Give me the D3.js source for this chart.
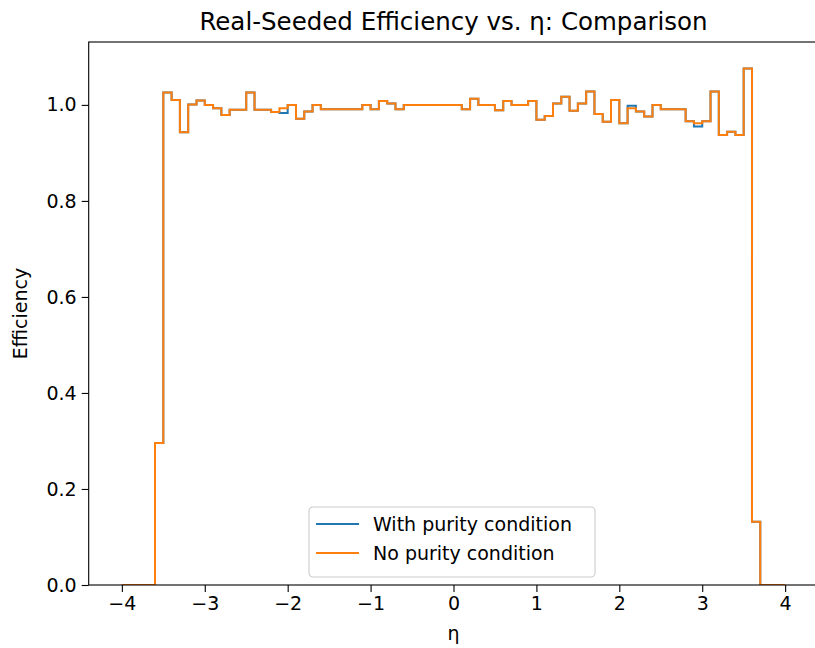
<!DOCTYPE html>
<html>
<head>
<meta charset="utf-8">
<script src="https://cdn.jsdelivr.net/npm/d3@7"></script>
<style>
  html, body { margin: 0; padding: 0; background: #fff; }
  svg { display: block; font-family: "DejaVu Sans", sans-serif; }
</style>
</head>
<body>
<svg id="chart" width="815" height="648"></svg>
<script>
// Bin edges in η (80 bins of width 0.1)
const binEdges = [
  -4.0, -3.9, -3.8, -3.7, -3.6, -3.5, -3.4, -3.3, -3.2, -3.1,
  -3.0, -2.9, -2.8, -2.7, -2.6, -2.5, -2.4, -2.3, -2.2, -2.1,
  -2.0, -1.9, -1.8, -1.7, -1.6, -1.5, -1.4, -1.3, -1.2, -1.1,
  -1.0, -0.9, -0.8, -0.7, -0.6, -0.5, -0.4, -0.3, -0.2, -0.1,
   0.0,  0.1,  0.2,  0.3,  0.4,  0.5,  0.6,  0.7,  0.8,  0.9,
   1.0,  1.1,  1.2,  1.3,  1.4,  1.5,  1.6,  1.7,  1.8,  1.9,
   2.0,  2.1,  2.2,  2.3,  2.4,  2.5,  2.6,  2.7,  2.8,  2.9,
   3.0,  3.1,  3.2,  3.3,  3.4,  3.5,  3.6,  3.7,  3.8,  3.9,
   4.0
];

// Efficiency per bin, no purity condition
const effNoPurity = [
  0, 0, 0, 0, 0.296, 1.026, 1.010, 0.943, 1.001, 1.009,
  1.000, 0.993, 0.979, 0.990, 0.990, 1.026, 0.990, 0.990, 0.985, 0.993,
  1.000, 0.971, 0.986, 1.000, 0.991, 0.991, 0.991, 0.991, 0.991, 1.000,
  0.991, 1.008, 1.003, 0.991, 1.000, 1.000, 1.000, 1.000, 1.000, 1.000,
  1.000, 0.991, 1.013, 1.000, 1.000, 0.989, 1.008, 1.000, 1.000, 1.008,
  0.969, 0.977, 1.003, 1.017, 0.988, 1.003, 1.028, 0.981, 0.965, 1.010,
  0.962, 0.993, 0.986, 0.976, 1.000, 0.991, 0.991, 0.991, 0.966, 0.962,
  0.966, 1.028, 0.9375, 0.944, 0.9375, 1.076, 0.132, 0, 0, 0
];

// Efficiency per bin, with purity condition
const effWithPurity = [
  0, 0, 0, 0, 0.296, 1.026, 1.010, 0.943, 1.001, 1.009,
  1.000, 0.993, 0.979, 0.990, 0.990, 1.026, 0.990, 0.990, 0.985, 0.983,
  1.000, 0.971, 0.986, 1.000, 0.991, 0.991, 0.991, 0.991, 0.991, 1.000,
  0.991, 1.008, 1.003, 0.991, 1.000, 1.000, 1.000, 1.000, 1.000, 1.000,
  1.000, 0.991, 1.013, 1.000, 1.000, 0.989, 1.008, 1.000, 1.000, 1.008,
  0.969, 0.977, 1.003, 1.017, 0.988, 1.003, 1.028, 0.981, 0.965, 1.010,
  0.962, 0.998, 0.986, 0.976, 1.000, 0.991, 0.991, 0.991, 0.966, 0.955,
  0.966, 1.028, 0.9375, 0.944, 0.9375, 1.076, 0.132, 0, 0, 0
];

const xTicks = [-4, -3, -2, -1, 0, 1, 2, 3, 4];
const yTicks = [0.0, 0.2, 0.4, 0.6, 0.8, 1.0];

const seriesNames = ["With purity condition", "No purity condition"];
const seriesColors = ["#1f77b4", "#ff7f0e"];

const svg = d3.select("#chart");
const plot = { left: 88.7, right: 818.3, top: 42, bottom: 585 };

const x = d3.scaleLinear().domain([-4.4, 4.4]).range([plot.left, plot.right]);
const y = d3.scaleLinear().domain([0, 1.131]).range([plot.bottom, plot.top]);

svg.append("defs").append("clipPath").attr("id", "plotClip")
  .append("rect")
  .attr("x", plot.left).attr("y", plot.top)
  .attr("width", plot.right - plot.left).attr("height", plot.bottom - plot.top);

// Step outline of a histogram: up from zero at the first edge, across each bin top, down at the last edge
function stepPoints(values) {
  const pts = [[binEdges[0], 0]];
  values.forEach((v, i) => {
    pts.push([binEdges[i], v]);
    pts.push([binEdges[i + 1], v]);
  });
  pts.push([binEdges[binEdges.length - 1], 0]);
  return pts;
}

const line = d3.line().x(d => x(d[0])).y(d => y(d[1]));

const curves = svg.append("g").attr("clip-path", "url(#plotClip)");
[effWithPurity, effNoPurity].forEach((vals, i) => {
  curves.append("path")
    .attr("d", line(stepPoints(vals)))
    .attr("fill", "none")
    .attr("stroke", seriesColors[i])
    .attr("stroke-width", 2)
    .attr("stroke-linejoin", "miter");
});

// Axes
const xAxis = d3.axisBottom(x).tickValues(xTicks).tickSize(7).tickPadding(5)
  .tickFormat(d => d < 0 ? "\u2212" + Math.abs(d) : String(d));
const yAxis = d3.axisLeft(y).tickValues(yTicks).tickSize(7).tickPadding(5)
  .tickFormat(d3.format(".1f"));

const gx = svg.append("g").attr("transform", `translate(0,${plot.bottom})`).call(xAxis);
const gy = svg.append("g").attr("transform", `translate(${plot.left},0)`).call(yAxis);
[gx, gy].forEach(g => {
  g.select(".domain").remove();
  g.selectAll(".tick line").attr("stroke", "#000").attr("stroke-width", 1.1);
  g.selectAll(".tick text").attr("fill", "#000").style("font-size", "19px")
    .style("font-family", "DejaVu Sans");
});

// Frame
svg.append("rect")
  .attr("x", plot.left).attr("y", plot.top)
  .attr("width", plot.right - plot.left).attr("height", plot.bottom - plot.top)
  .attr("fill", "none").attr("stroke", "#000").attr("stroke-width", 1.1);

// Title and axis labels
svg.append("text")
  .attr("x", (plot.left + plot.right) / 2).attr("y", 30)
  .attr("text-anchor", "middle").style("font-size", "24.5px")
  .text("Real-Seeded Efficiency vs. \u03b7: Comparison");

svg.append("text")
  .attr("x", x(0)).attr("y", 640)
  .attr("text-anchor", "middle").style("font-size", "19px")
  .text("\u03b7");

svg.append("text")
  .attr("transform", `translate(27,${(plot.top + plot.bottom) / 2}) rotate(-90)`)
  .attr("text-anchor", "middle").style("font-size", "19px")
  .text("Efficiency");

// Legend
const legend = svg.append("g").attr("transform", "translate(309,507)");
legend.append("rect")
  .attr("width", 286).attr("height", 70).attr("rx", 4)
  .attr("fill", "#fff").attr("fill-opacity", 0.8)
  .attr("stroke", "#cccccc").attr("stroke-width", 1.1);
seriesNames.forEach((name, i) => {
  const row = legend.append("g").attr("transform", `translate(0,${17 + i * 29})`);
  row.append("line").attr("x1", 7).attr("x2", 50)
    .attr("stroke", seriesColors[i]).attr("stroke-width", 2);
  row.append("text").attr("x", 64).attr("y", 0).attr("dy", "0.35em")
    .style("font-size", "19px").text(name);
});
</script>
</body>
</html>
